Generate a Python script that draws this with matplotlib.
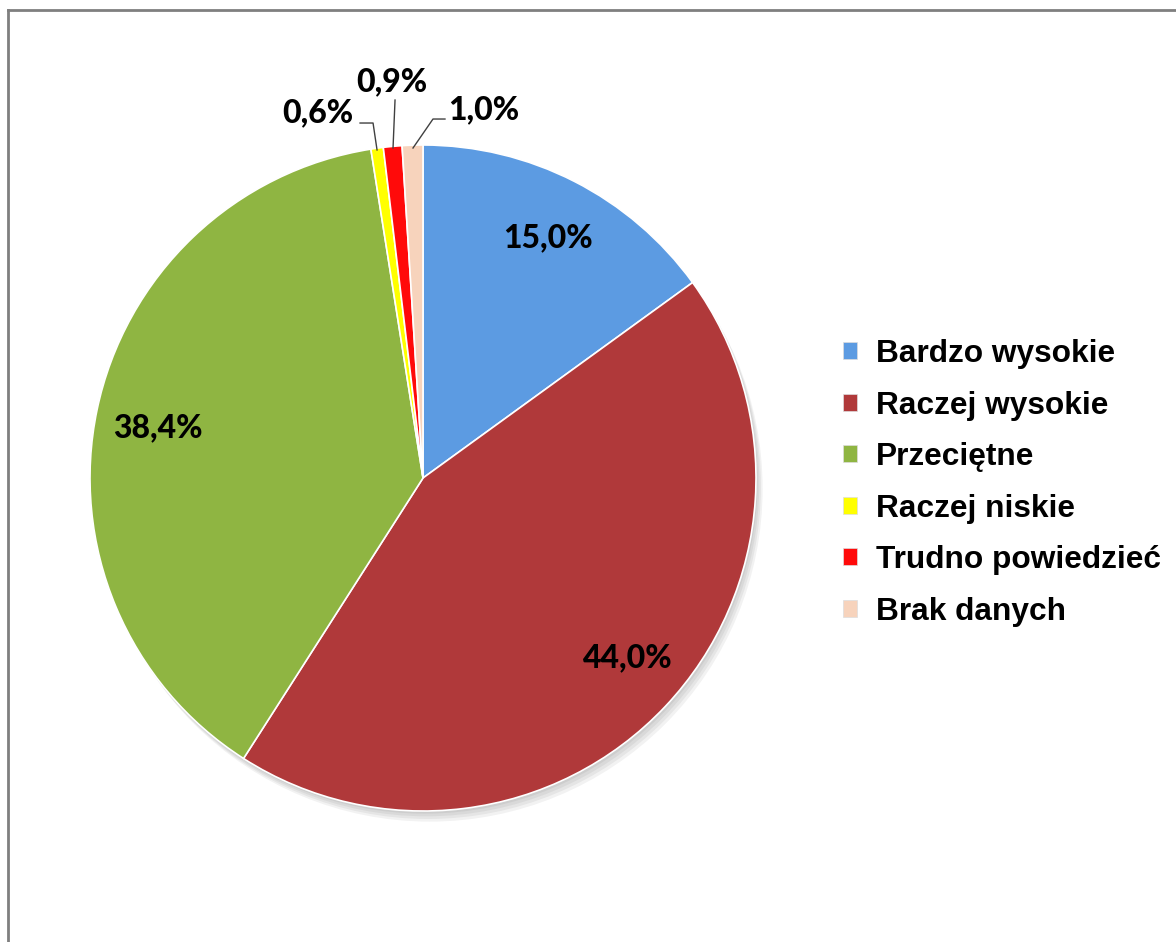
import matplotlib
matplotlib.use("Agg")
import matplotlib.pyplot as plt
from matplotlib.lines import Line2D
from matplotlib.patches import Circle

categories = ["Bardzo wysokie", "Raczej wysokie", "Przeciętne", "Raczej niskie",
              "Trudno powiedzieć", "Brak danych"]
values = [15.0, 44.0, 38.4, 0.6, 0.9, 1.0]
labels = ["15,0%", "44,0%", "38,4%", "0,6%", "0,9%", "1,0%"]
colors = ["#5C9BE2", "#B0393A", "#8FB542", "#FFFF00", "#FF0A0A", "#F7D3BC"]

# layout: label positions (data units, pie radius = 1) and leader lines
label_pos = [(0.375, 0.72), (0.616, -0.54), (-0.796, 0.15),
             (-0.315, 1.096), (-0.093, 1.189), (0.183, 1.105)]
leaders = {3: [(-0.189, 1.066), (-0.150, 1.066), (-0.138, 0.985)],
           4: [(-0.084, 1.135), (-0.090, 0.991)],
           5: [(0.066, 1.078), (0.030, 1.078), (-0.030, 0.991)]}

W, H = 1176, 942
fig = plt.figure(figsize=(W / 100, H / 100), dpi=100)
cx, cy, r = 423, 478, 333
ax = fig.add_axes([(cx - r) / W, (H - cy - r) / H, 2 * r / W, 2 * r / H])

# soft shadow
for i in range(4):
    ax.add_patch(Circle((0.005 * (i + 1), -0.008 * (i + 1)), 1.0, color="black",
                        alpha=0.05, lw=0, zorder=0, clip_on=False))

wedges, _ = ax.pie(values, colors=colors, startangle=90, counterclock=False,
                   radius=1.0, wedgeprops=dict(edgecolor="white", linewidth=1.2),
                   normalize=True)
for w in wedges:
    w.set_zorder(2)
    w.set_clip_on(False)

ax.set_xlim(-1, 1)
ax.set_ylim(-1, 1)
ax.set_aspect("equal")
ax.axis("off")

for i, (lbl, (x, y)) in enumerate(zip(labels, label_pos)):
    ax.text(x, y, lbl, ha="center", va="center", fontsize=23,
            fontweight=900, family="Lato", color="#000000", zorder=5,
            clip_on=False)

for i, pts in leaders.items():
    xs = [p[0] for p in pts]
    ys = [p[1] for p in pts]
    ax.add_line(Line2D(xs, ys, color="#404040", lw=1.0, zorder=4, clip_on=False))

leg = ax.legend(wedges, categories, loc="upper left",
                bbox_to_anchor=(843 / W, (H - 339) / H),
                bbox_transform=fig.transFigure, frameon=False,
                prop=dict(family="Liberation Sans", weight="bold", size=22.8),
                handlelength=0.45, handleheight=0.45, handletextpad=0.6,
                labelspacing=0.68, borderpad=0, borderaxespad=0)
for h in leg.legend_handles:
    h.set_edgecolor("#DDDDDD")
    h.set_linewidth(0.5)

# frame (top and left border)
fig.add_artist(Line2D([8 / W, 1.0], [1 - 10 / H, 1 - 10 / H],
                      transform=fig.transFigure, color="#7F7F7F", lw=2.0))
fig.add_artist(Line2D([8 / W, 8 / W], [0.0, 1 - 10 / H],
                      transform=fig.transFigure, color="#7F7F7F", lw=2.0))

fig.savefig("out.png", dpi=100, facecolor="white")
